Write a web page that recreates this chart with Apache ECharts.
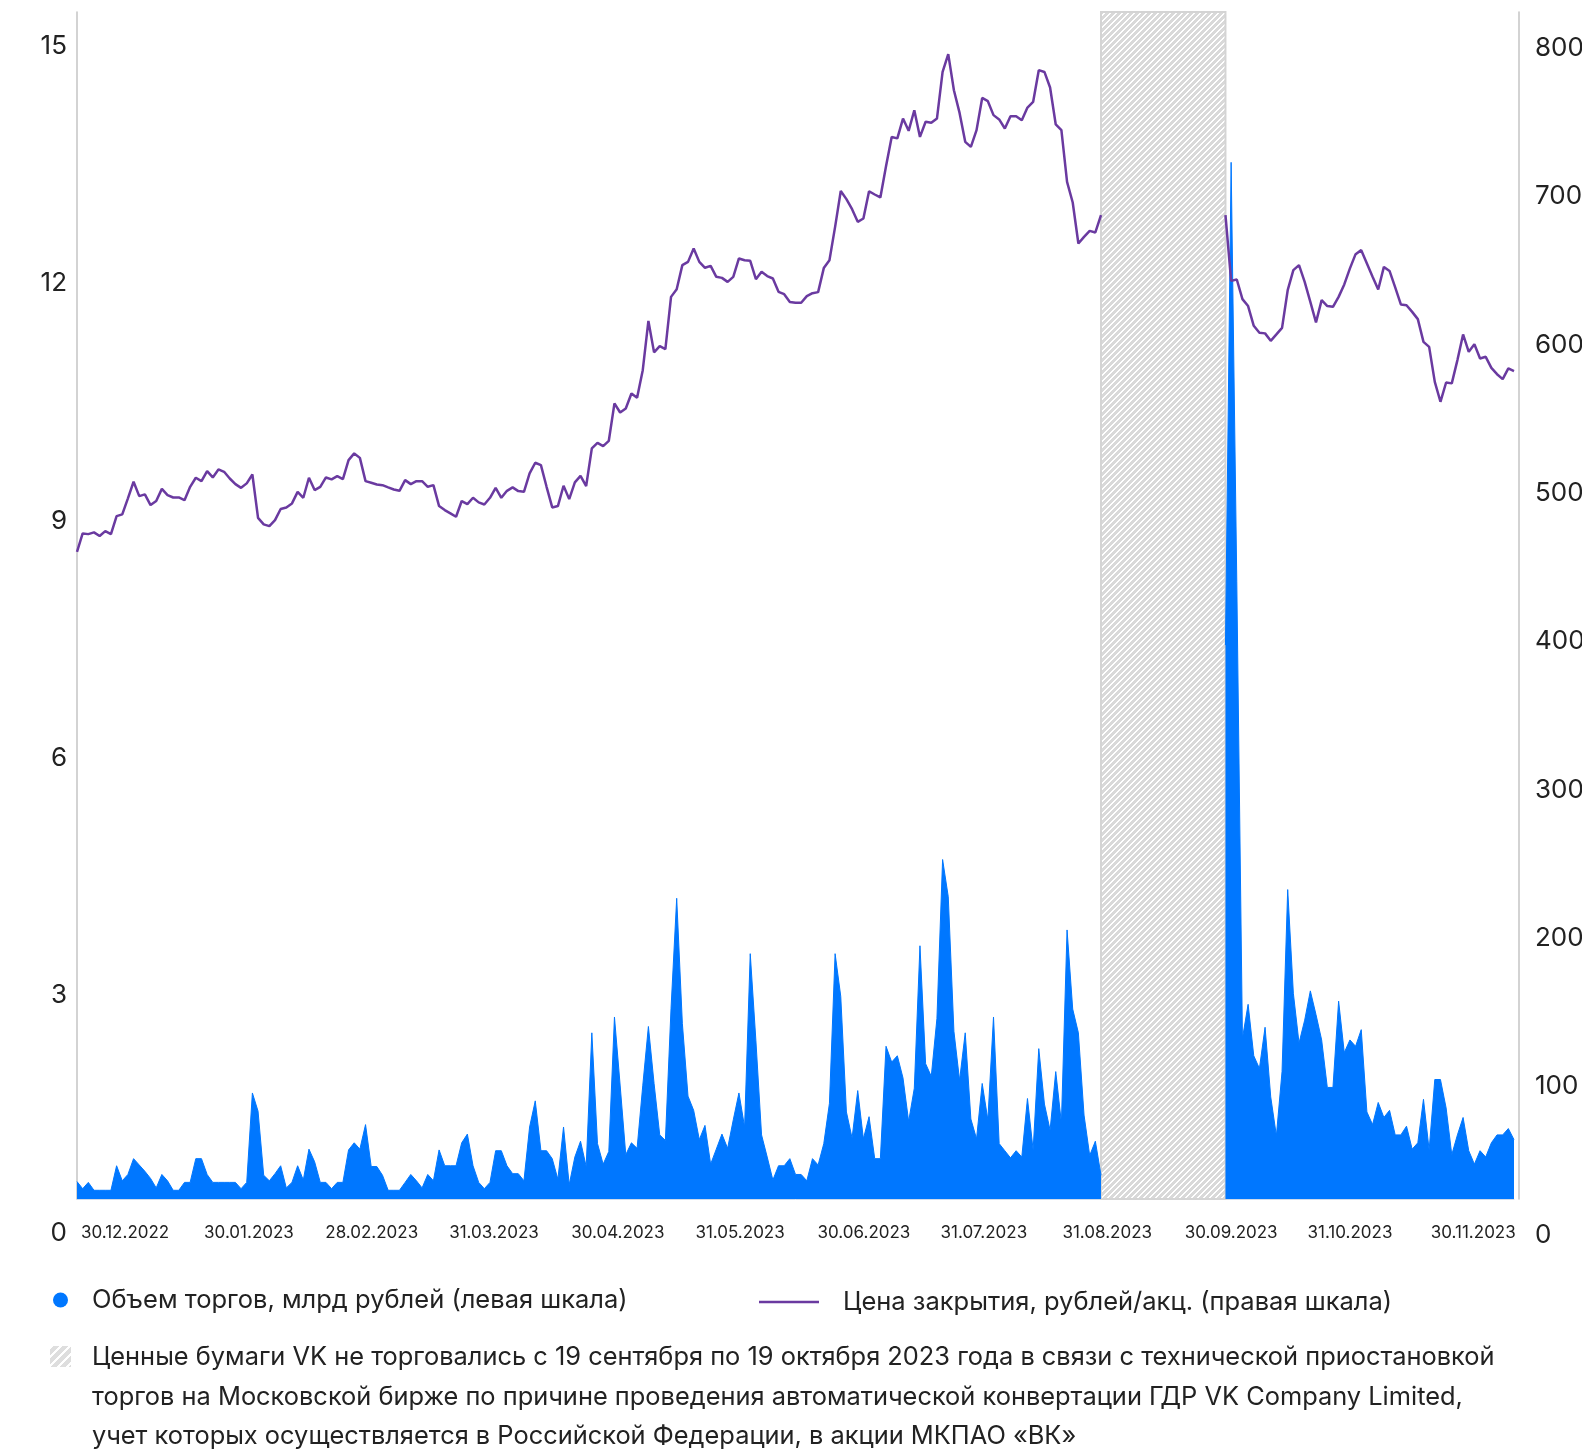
<!DOCTYPE html>
<html>
<head>
<meta charset="utf-8">
<script src="https://cdn.jsdelivr.net/npm/echarts@6/dist/echarts.min.js"></script>
<style>
  html, body { margin: 0; padding: 0; background: #ffffff; overflow: hidden; }
  #chart { width: 1582px; height: 1450px; }
</style>
</head>
<body>
<div id="chart"></div>
<script>
// Trading-day index runs 0..254; days 182..202 fall into the suspension period.
const DAY_COUNT = 255;
const SUSPENSION = [181, 203];

// Close price, RUB per share (right scale)
const PRICE = [
  436.2, 448.6, 448.1, 449.3, 446.8, 450.1, 448.1, 460.2, 461.4, 472.2,
  483.4, 473.7, 474.9, 467.7, 470.4, 478.6, 474.4, 472.8, 472.8, 471.0,
  480.0, 486.1, 483.8, 490.6, 486.3, 491.7, 490.1, 485.6, 481.8, 479.3,
  482.3, 488.3, 459.1, 454.7, 453.5, 457.5, 465.0, 466.1, 468.8, 476.6,
  472.6, 486.1, 477.8, 480.0, 486.3, 485.0, 487.2, 485.2, 498.0, 502.5,
  499.5, 483.8, 482.7, 481.6, 481.1, 479.6, 478.2, 477.3, 484.5, 481.8,
  483.8, 483.8, 480.0, 481.1, 467.0, 464.3, 462.1, 459.8, 470.4, 468.3,
  472.6, 469.5, 468.1, 472.6, 479.3, 472.6, 477.3, 479.6, 477.1, 476.6,
  489.0, 496.2, 494.6, 480.0, 466.1, 467.0, 480.7, 471.7, 483.0, 487.4,
  480.5, 505.9, 509.6, 507.4, 511.0, 536.2, 530.1, 532.8, 542.9, 540.0,
  558.6, 591.8, 570.6, 574.8, 572.8, 608.0, 613.2, 629.4, 631.6, 640.6,
  631.6, 627.6, 628.9, 621.5, 620.8, 618.1, 621.5, 633.9, 632.7, 632.3,
  619.9, 624.9, 622.0, 620.4, 611.4, 609.8, 604.6, 604.0, 604.0, 608.5,
  610.5, 611.2, 627.4, 632.7, 655.2, 679.4, 673.9, 667.1, 658.6, 660.8,
  679.2, 677.0, 675.0, 696.1, 715.8, 714.8, 728.2, 719.9, 733.8, 715.8,
  726.0, 725.3, 728.2, 759.6, 771.6, 747.3, 732.0, 712.5, 709.1, 720.4,
  742.1, 739.9, 730.5, 727.6, 721.5, 729.8, 729.8, 727.1, 735.6, 739.4,
  760.8, 759.6, 749.1, 724.2, 720.4, 685.5, 671.6, 644.0, 648.4, 652.5,
  651.4, 663.1,
  null, null, null, null, null, null, null, null, null, null, null,
  null, null, null, null, null, null, null, null, null, null,
  663.1, 618.8, 619.7, 606.5, 601.8, 588.5, 583.8, 583.4, 578.4, 582.7,
  587.1, 612.5, 626.0, 629.4, 618.1, 604.6, 590.8, 605.8, 601.8, 601.3,
  608.0, 616.4, 627.2, 636.8, 639.5, 630.5, 621.5, 613.0, 628.2, 625.5,
  614.4, 602.9, 602.4, 597.9, 593.0, 577.7, 574.3, 550.7, 537.3, 550.3,
  549.7, 565.4, 582.7, 571.0, 576.1, 566.5, 567.6, 560.2, 555.9, 552.6,
  559.8, 558.0
];

// Trading volume, bn RUB (left scale)
const VOLUME = [
  0.22, 0.13, 0.21, 0.11, 0.11, 0.11, 0.11, 0.42, 0.23, 0.31,
  0.51, 0.43, 0.35, 0.26, 0.14, 0.31, 0.23, 0.11, 0.11, 0.21,
  0.21, 0.51, 0.51, 0.31, 0.21, 0.21, 0.21, 0.21, 0.21, 0.13,
  0.21, 1.34, 1.11, 0.30, 0.23, 0.32, 0.42, 0.14, 0.21, 0.42,
  0.24, 0.63, 0.47, 0.21, 0.21, 0.13, 0.21, 0.21, 0.62, 0.71,
  0.63, 0.94, 0.41, 0.41, 0.30, 0.11, 0.11, 0.11, 0.21, 0.31,
  0.23, 0.14, 0.31, 0.23, 0.62, 0.42, 0.42, 0.42, 0.71, 0.82,
  0.42, 0.21, 0.13, 0.21, 0.61, 0.61, 0.42, 0.32, 0.32, 0.23,
  0.91, 1.24, 0.61, 0.61, 0.51, 0.25, 0.91, 0.18, 0.53, 0.73,
  0.41, 2.10, 0.70, 0.44, 0.60, 2.30, 1.44, 0.56, 0.71, 0.64,
  1.43, 2.18, 1.46, 0.81, 0.74, 2.41, 3.80, 2.22, 1.30, 1.12,
  0.75, 0.93, 0.44, 0.63, 0.82, 0.64, 1.00, 1.34, 0.91, 3.10,
  2.00, 0.81, 0.53, 0.24, 0.42, 0.42, 0.51, 0.31, 0.31, 0.23,
  0.51, 0.43, 0.70, 1.21, 3.10, 2.56, 1.10, 0.77, 1.37, 0.76,
  1.04, 0.51, 0.51, 1.93, 1.73, 1.81, 1.53, 0.98, 1.40, 3.20,
  1.71, 1.55, 2.28, 4.29, 3.82, 2.12, 1.50, 2.10, 1.01, 0.76,
  1.46, 1.00, 2.30, 0.70, 0.61, 0.52, 0.61, 0.53, 1.27, 0.62,
  1.90, 1.20, 0.87, 1.61, 0.96, 3.40, 2.40, 2.10, 1.06, 0.55,
  0.73, 0.30,
  null, null, null, null, null, null, null, null, null, null, null,
  null, null, null, null, null, null, null, null, null, null,
  7.00, 13.10, 7.80, 2.03, 2.46, 1.81, 1.65, 2.17, 1.29, 0.80,
  1.61, 3.91, 2.60, 1.97, 2.26, 2.63, 2.33, 2.01, 1.41, 1.41,
  2.50, 1.85, 2.01, 1.93, 2.14, 1.10, 0.94, 1.22, 1.03, 1.12,
  0.81, 0.81, 0.92, 0.63, 0.71, 1.26, 0.62, 1.51, 1.51, 1.15,
  0.56, 0.81, 1.03, 0.61, 0.44, 0.61, 0.53, 0.71, 0.81, 0.81,
  0.89, 0.75
];

// Month labels along the day axis
const TICK_DAY = [8.5, 30.4, 52.1, 73.7, 95.6, 117.2, 139.1, 160.3, 182.1, 204.0, 225.0, 246.8];
const TICK_LABEL = ['30.12.2022', '30.01.2023', '28.02.2023', '31.03.2023', '30.04.2023', '31.05.2023',
                    '30.06.2023', '31.07.2023', '31.08.2023', '30.09.2023', '31.10.2023', '30.11.2023'];

const VOLUME_NAME = 'Объем торгов, млрд рублей (левая шкала)';
const PRICE_NAME = 'Цена закрытия, рублей/акц. (правая шкала)';
const NOTE_LINES = [
  'Ценные бумаги VK не торговались с 19 сентября по 19 октября 2023 года в связи с технической приостановкой',
  'торгов на Московской бирже по причине проведения автоматической конвертации ГДР VK Company Limited,',
  'учет которых осуществляется в Российской Федерации, в акции МКПАО «ВК»'
];

const BLUE = '#0077ff';
const PURPLE = '#6a3aa0';
const TEXT = '#222222';
const FONT = 'Inter, "Noto Sans", sans-serif';

// Crisp "/" hatch tile: pixels on every period-th anti-diagonal are left white
function hatchTile(period, stripe, bg) {
  const c = document.createElement('canvas');
  c.width = c.height = period;
  const g = c.getContext('2d');
  g.fillStyle = '#ffffff';
  g.fillRect(0, 0, period, period);
  g.fillStyle = bg;
  for (let y = 0; y < period; y++) {
    for (let x = 0; x < period; x++) {
      if ((x + y) % period >= stripe) g.fillRect(x, y, 1, 1);
    }
  }
  return c;
}
const bandTile = hatchTile(6, 2, '#d9d9d9');
const swatchTile = hatchTile(9, 3, '#dedede');

const volumeData = VOLUME.map((v, i) => [i, v]);
const priceData = PRICE.map((v, i) => [i, v]);

const chart = echarts.init(document.getElementById('chart'), null, { renderer: 'canvas' });

// Value-axis labels sit below their tick: top-aligned with a tall line box
const yLabel = (margin, boxHeight) => ({
  color: TEXT,
  fontSize: 26,
  fontFamily: FONT,
  margin: margin,
  verticalAlign: 'top',
  lineHeight: boxHeight
});

chart.setOption({
  animation: false,
  backgroundColor: '#ffffff',
  textStyle: { fontFamily: FONT },
  grid: { left: 77, right: 68, top: 12, bottom: 251, outerBoundsMode: 'none', containLabel: false },
  xAxis: {
    type: 'value',
    min: 0,
    max: DAY_COUNT - 1,
    axisLine: { show: true, lineStyle: { color: '#cfdaea', width: 1 } },
    axisTick: { show: false },
    splitLine: { show: false },
    axisLabel: {
      customValues: TICK_DAY,
      formatter: (v) => {
        const k = TICK_DAY.findIndex((d) => Math.abs(d - v) < 1e-6);
        return k >= 0 ? TICK_LABEL[k] : '';
      },
      color: TEXT,
      fontSize: 17,
      fontFamily: FONT,
      margin: 25
    }
  },
  yAxis: [
    {
      type: 'value',
      position: 'left',
      offset: 2,
      min: 0,
      max: 15,
      interval: 3,
      axisLine: { show: true, lineStyle: { color: '#c4c4c4', width: 1.5 } },
      axisTick: { show: false },
      splitLine: { show: false },
      axisLabel: yLabel(8, 68)
    },
    {
      type: 'value',
      position: 'right',
      offset: 5,
      min: 0,
      max: 800,
      interval: 100,
      axisLine: { show: true, lineStyle: { color: '#c4c4c4', width: 1.5 } },
      axisTick: { show: false },
      splitLine: { show: false },
      axisLabel: yLabel(16, 72)
    }
  ],
  legend: [
    {
      data: [VOLUME_NAME],
      left: 53,
      top: 1285,
      padding: 0,
      icon: 'circle',
      itemWidth: 15,
      itemHeight: 15,
      selectedMode: false,
      textStyle: { color: TEXT, fontSize: 25.5, fontFamily: FONT, lineHeight: 30, padding: [0, 0, 0, 19] }
    },
    {
      data: [PRICE_NAME],
      left: 759,
      top: 1287,
      padding: 0,
      icon: 'rect',
      itemWidth: 60,
      itemHeight: 2.5,
      selectedMode: false,
      textStyle: { color: TEXT, fontSize: 25.5, fontFamily: FONT, lineHeight: 30, padding: [0, 0, 0, 19] }
    }
  ],
  series: [
    {
      name: VOLUME_NAME,
      type: 'line',
      yAxisIndex: 0,
      data: volumeData,
      symbol: 'none',
      connectNulls: false,
      itemStyle: { color: BLUE },
      lineStyle: { color: BLUE, width: 1 },
      areaStyle: { color: BLUE, opacity: 1 },
      z: 2,
      markArea: {
        silent: true,
        itemStyle: {
          color: { image: bandTile, repeat: 'repeat' },
          borderColor: '#d4d4d4',
          borderWidth: 2
        },
        data: [[{ xAxis: SUSPENSION[0] }, { xAxis: SUSPENSION[1] }]]
      }
    },
    {
      name: PRICE_NAME,
      type: 'line',
      yAxisIndex: 1,
      data: priceData,
      symbol: 'none',
      connectNulls: false,
      itemStyle: { color: PURPLE },
      lineStyle: { color: PURPLE, width: 2.5 },
      z: 3
    }
  ],
  graphic: [
    {
      type: 'rect',
      left: 50,
      top: 1346,
      shape: { width: 21, height: 21 },
      style: { fill: { image: swatchTile, repeat: 'repeat' } }
    },
    {
      type: 'text',
      left: 92,
      top: 1338,
      style: {
        text: NOTE_LINES.join('\n'),
        fontSize: 25.4,
        fontFamily: FONT,
        lineHeight: 39.5,
        fill: TEXT
      }
    }
  ]
});
</script>
</body>
</html>
